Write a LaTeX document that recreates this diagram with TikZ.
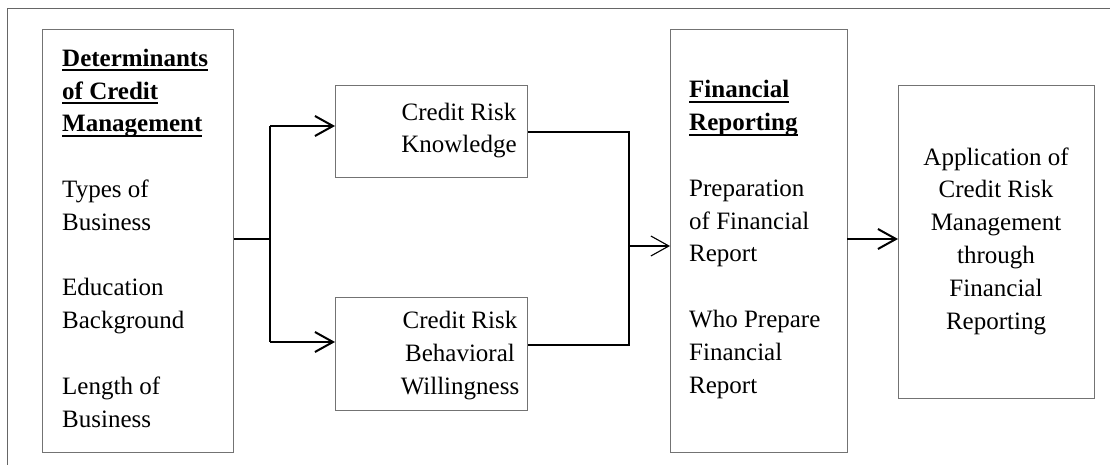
\documentclass[tikz,border=0pt]{standalone}
\usepackage{fontspec}
\setmainfont{Liberation Serif}
\usetikzlibrary{arrows.meta}
\newcommand\myul[1]{\setbox0\hbox{#1}\rlap{\rule[-5pt]{\wd0}{1.8pt}}\box0}
\tikzset{
  box/.style={draw=black!55, line width=1pt, anchor=north west, inner sep=0pt},
  txt/.style={font=\fontsize{25}{32.8}\selectfont, inner sep=0pt},
  conn/.style={draw=black, line width=2pt},
  thinconn/.style={draw=black, line width=1.1pt},
  arr/.style={-{Straight Barb[length=18pt,width=20pt]}},
  frame/.style={draw=black!60, line width=1pt}
}
\begin{document}
\begin{tikzpicture}[x=1pt,y=-1pt]
\useasboundingbox (0,0) rectangle (1110,465);
\draw[frame] (1110,9) -- (7,9) -- (7,465);
% boxes
\node[box, minimum width=191pt, minimum height=423pt] (b1) at (42,29) {};
\node[box, minimum width=192pt, minimum height=92pt] (b2) at (335,85) {};
\node[box, minimum width=192pt, minimum height=113pt] (b3) at (335,297) {};
\node[box, minimum width=177pt, minimum height=423pt] (b4) at (670,29) {};
\node[box, minimum width=196pt, minimum height=313pt] (b5) at (898,85) {};
% texts (anchor base = baseline of the last line)
\node[txt, anchor=base west, align=left] (t1) at (62,427) {%
\myul{\textbf{Determinants}}\\
\myul{\textbf{of Credit}}\\
\myul{\textbf{Management}}\\[32.8pt]
Types of\\ Business\\[32.8pt]
Education\\ Background\\[32.8pt]
Length of\\ Business};
\node[txt, anchor=base, align=center] (t2) at (459,153) {Credit Risk\\ Knowledge};
\node[txt, anchor=base, align=center] (t3) at (460,394) {Credit Risk\\ Behavioral\\ Willingness};
\node[txt, anchor=base west, align=left] (t4) at (689,393) {%
\myul{\textbf{Financial}}\\
\myul{\textbf{Reporting}}\\[32.8pt]
Preparation\\ of Financial\\ Report\\[32.8pt]
Who Prepare\\ Financial\\ Report};
\node[txt, anchor=base, align=center] (t5) at (996,329) {Application of\\ Credit Risk\\ Management\\ through\\ Financial\\ Reporting};
% connectors
\coordinate (j1) at (270,239);
\coordinate (j1t) at (270,126);
\coordinate (j1b) at (270,342);
\draw[thinconn] (b1.east |- j1) -- (j1);
\draw[conn] (j1t) -- (j1b);
\draw[conn, arr] (j1t) -- (b2.west |- j1t);
\draw[conn, arr] (j1b) -- (b3.west |- j1b);
\coordinate (j2t) at (629,132);
\coordinate (j2b) at (629,345);
\coordinate (j2m) at (629,246);
\draw[conn] (b2.east |- j2t) -- (j2t) -- (j2b) -- (b3.east |- j2b);
\draw[thinconn, arr] (j2m) -- (b4.west |- j2m);
\coordinate (a4) at (847,239);
\draw[conn, arr] (a4) -- (b5.west |- a4);
\end{tikzpicture}
\end{document}
